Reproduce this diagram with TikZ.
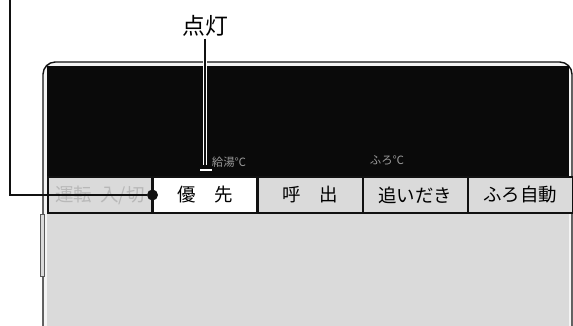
\documentclass[tikz,border=0pt]{standalone}
\usepackage{fontspec}
\usepackage{xcolor}
\usepackage{tikz}
\usetikzlibrary{positioning, calc}
\newfontfamily\jpfont{Noto Sans CJK JP}
\definecolor{ink}{HTML}{111111}
\definecolor{panel}{HTML}{DADADA}
\definecolor{rim}{HTML}{F4F4F4}
\definecolor{lcd}{HTML}{0A0A0A}
\definecolor{lcdtext}{HTML}{9A9A9A}
\tikzset{
  key/.style     = {rectangle, draw=ink, line width=0.6pt, fill=panel,
                    minimum width=2.08cm, minimum height=0.72cm,
                    inner sep=0pt, font=\jpfont\fontsize{10.5}{10.5}\selectfont},
  lit/.style     = {key, fill=white},
  lcdlabel/.style= {font=\jpfont\fontsize{6.5}{6.5}\selectfont, text=lcdtext, inner sep=0pt},
  callout/.style = {draw=ink, line width=1.2pt},
  dot/.style     = {circle, fill=ink, inner sep=0pt, minimum size=0.22cm},
}
\begin{document}
\begin{tikzpicture}[x=0.02cm, y=-0.02cm, node distance=0pt]
  \useasboundingbox (0,0) rectangle (573,325);

  % Panel body and display
  \fill[rim, draw=ink, line width=0.8pt, rounded corners=7pt]
       (43,330) -- (43,62) -- (572,62) -- (572,330);
  \fill[panel] (47,176) rectangle (569,330);
  \fill[lcd] (47,66) rectangle (569,176);
  \draw[ink!60, densely dotted] (47,176) -- (569,176);
  \fill[panel, draw=ink!70, line width=0.5pt] (40,214) rectangle (44,276);

  % Buttons
  \node[lit] (pri) at (205,195) {優\quad 先};
  \node[key, left=of pri]   (run)  {\textcolor{ink!30}{運転\ \ 入/切}};
  \node[key, right=of pri]  (call) {呼\quad 出};
  \node[key, right=of call] (reheat) {追いだき};
  \node[key, right=of reheat] (auto) {ふろ自動};

  % Display labels
  \node[lcdlabel] (hot)  at (229,162) {給湯℃};
  \node[lcdlabel] (bath) at (387,160) {ふろ℃};
  \node[rectangle, fill=white, minimum width=0.24cm, minimum height=0.05cm,
        inner sep=0pt] (lamp) at (206,170) {};

  % Callouts
  \node[font=\jpfont\fontsize{13}{13}\selectfont, inner sep=1pt] (label) at (205,26) {点灯};
  \coordinate (lampend) at (205,165);
  \draw[white, line width=2.6pt] (label.south) -- (lampend);
  \draw[ink, line width=1.2pt] (label.south) -- (lampend);

  \node[dot] (pin) at (pri.west) {};
  \coordinate (corner) at (10,0);
  \draw[callout] (corner) |- (pin);
\end{tikzpicture}
\end{document}
